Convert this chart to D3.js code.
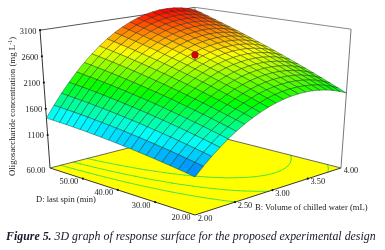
<!DOCTYPE html>
<html><head><meta charset="utf-8">
<script src="https://cdn.jsdelivr.net/npm/d3@7"></script>
<style>html,body{margin:0;padding:0;background:#fff}svg{display:block;filter:blur(0.3px)}text{font-family:"Liberation Serif",serif}</style>
</head><body><svg id="c" width="385" height="250"></svg>
<script>
const bTicks=[2,2.5,3,3.5,4], dTicks=[20,30,40,50,60], zTicks=[1100,1600,2100,2600,3100];
const bDomain=[2,4], dDomain=[20,60], zDomain=[470,3100];
const colorStops=["#0050ff","#00ffff","#00ff00","#ffff00","#ff0000"];
const colorLevels=[1000,1500,2020,2580,3150];
const contourLevels=[1700,2000,2300];
const designPoint=[3,40,2620], designSurface=2500;
const bValues=[2,2.1,2.2,2.3,2.4,2.5,2.6,2.7,2.8,2.9,3,3.1,3.2,3.3,3.4,3.5,3.6,3.7,3.8,3.9,4];
const dValues=[20,22,24,26,28,30,32,34,36,38,40,42,44,46,48,50,52,54,56,58,60];
// rows: D = 20..60, columns: B = 2..4
const surface=[
[1107,1246,1374,1491,1599,1695,1782,1857,1923,1978,2022,2056,2079,2092,2095,2087,2068,2040,2000,1950,1890],
[1132,1274,1406,1527,1637,1737,1826,1904,1972,2029,2076,2112,2137,2152,2156,2149,2132,2104,2066,2017,1957],
[1156,1301,1437,1561,1674,1777,1869,1950,2021,2080,2129,2167,2194,2210,2216,2211,2195,2168,2131,2082,2023],
[1178,1328,1467,1594,1711,1817,1911,1995,2068,2130,2181,2221,2250,2268,2275,2271,2257,2231,2194,2147,2088],
[1200,1354,1496,1627,1746,1855,1953,2039,2115,2179,2232,2274,2305,2325,2333,2331,2317,2293,2257,2210,2152],
[1221,1378,1524,1658,1781,1893,1993,2082,2160,2227,2282,2326,2359,2380,2391,2390,2377,2354,2319,2273,2215],
[1241,1402,1551,1688,1814,1929,2032,2124,2205,2274,2331,2377,2412,2435,2447,2447,2436,2414,2380,2334,2278],
[1260,1425,1577,1718,1847,1965,2071,2166,2249,2320,2380,2428,2464,2489,2502,2504,2494,2473,2440,2395,2339],
[1279,1446,1602,1746,1879,2000,2109,2206,2291,2365,2427,2477,2515,2542,2557,2560,2551,2531,2499,2455,2399],
[1296,1467,1627,1774,1910,2033,2145,2245,2333,2409,2473,2525,2566,2594,2610,2615,2607,2588,2557,2514,2459],
[1312,1487,1650,1801,1940,2066,2181,2283,2374,2452,2519,2573,2615,2645,2663,2669,2663,2644,2614,2572,2517],
[1327,1506,1672,1827,1968,2098,2216,2321,2414,2495,2563,2619,2663,2695,2715,2722,2717,2700,2670,2629,2575],
[1342,1524,1694,1851,1996,2129,2249,2357,2453,2536,2607,2665,2711,2744,2765,2774,2770,2754,2726,2685,2631],
[1355,1541,1715,1875,2024,2159,2282,2393,2491,2576,2649,2709,2757,2792,2815,2825,2822,2807,2780,2740,2687],
[1368,1557,1734,1898,2050,2188,2314,2428,2528,2616,2691,2753,2803,2840,2864,2875,2874,2860,2833,2794,2742],
[1379,1573,1753,1920,2075,2217,2345,2461,2564,2654,2732,2796,2848,2886,2912,2925,2924,2912,2886,2847,2795],
[1390,1587,1771,1941,2099,2244,2375,2494,2600,2692,2771,2838,2891,2931,2959,2973,2974,2962,2937,2899,2848],
[1400,1600,1787,1962,2122,2270,2404,2526,2634,2729,2810,2879,2934,2976,3005,3020,3023,3012,2988,2951,2900],
[1408,1612,1803,1981,2145,2295,2433,2557,2667,2764,2848,2918,2976,3019,3050,3067,3070,3060,3037,3001,2951],
[1416,1624,1818,1999,2166,2320,2460,2586,2700,2799,2885,2957,3017,3062,3094,3112,3117,3108,3086,3050,3001],
[1423,1634,1832,2016,2186,2343,2486,2615,2731,2833,2921,2996,3056,3104,3137,3157,3163,3155,3134,3099,3050]
];

const svg=d3.select("#c");
const u=d3.scaleLinear().domain(bDomain).range([0,1]);
const v=d3.scaleLinear().domain(dDomain).range([0,1]);
const zn=d3.scaleLinear().domain(zDomain).range([0,1]);
const color=d3.scaleLinear().domain(colorLevels).range(colorStops).interpolate(d3.interpolateRgb).clamp(true);

// homography of the floor plus vertical perspective
function proj(b,d,z){
  const a=u(b),c=v(d);
  const w=0.1312*a+0.1390*c+1;
  const x=(190.7*a-138*c+195)/w, y=(-25*a-23.65*c+215)/w;
  const h=(z==null?0:zn(z))*157/w;
  return [x+(x-195.5)*h/2000, y-h];
}
const line=d3.line();
const cells=[];
for(let j=dValues.length-2;j>=0;j--)for(let i=bValues.length-2;i>=0;i--){
  const z=[surface[j][i],surface[j][i+1],surface[j+1][i+1],surface[j+1][i]];
  cells.push({
    pts:[proj(bValues[i],dValues[j],z[0]),proj(bValues[i+1],dValues[j],z[1]),proj(bValues[i+1],dValues[j+1],z[2]),proj(bValues[i],dValues[j+1],z[3])],
    val:d3.mean(z)});
}

// floor
const floorC=[[2,20],[4,20],[4,60],[2,60]];
svg.append("path").attr("d",line(floorC.map(p=>proj(p[0],p[1])))+"Z").attr("fill","#ffff00").attr("stroke","none");

// floor contours
const gx=d3.scaleLinear().domain([0.5,bValues.length-0.5]).range(bDomain).clamp(true);
const gy=d3.scaleLinear().domain([0.5,dValues.length-0.5]).range(dDomain).clamp(true);
const cont=d3.contours().size([bValues.length,dValues.length]).thresholds(contourLevels)(surface.flat());
cont.forEach(c=>c.coordinates.forEach(poly=>poly.forEach(ring=>{
  for(let k=0;k<ring.length-1;k++){
    const p=[gx(ring[k][0]),gy(ring[k][1])],q=[gx(ring[k+1][0]),gy(ring[k+1][1])];
    const edge=(p[0]===q[0]&&(p[0]===2||p[0]===4))||(p[1]===q[1]&&(p[1]===20||p[1]===60));
    if(edge)continue;
    svg.append("path").attr("d",line([proj(p[0],p[1]),proj(q[0],q[1])]))
      .attr("fill","none").attr("stroke","#45e045").attr("stroke-width",0.9).attr("stroke-linecap","round");
  }
})));

// floor outline
[[[2,60],[4,60]],[[4,60],[4,20]]].forEach(s=>svg.append("path").attr("d",line(s.map(p=>proj(p[0],p[1])))).attr("stroke","#444").attr("stroke-width",0.8).attr("fill","none"));
[[[2,60],[2,20]],[[2,20],[4,20]]].forEach(s=>svg.append("path").attr("d",line(s.map(p=>proj(p[0],p[1])))).attr("stroke","#222").attr("stroke-width",0.9).attr("fill","none"));

// frame
const zTop=zTicks[zTicks.length-1], zBot=zDomain[0];
function seg(a,b,col,w){svg.append("path").attr("d",line([a,b])).attr("stroke",col).attr("stroke-width",w).attr("fill","none");}
seg(proj(2,60,zBot),proj(2,60,zTop),"#333",1);
seg(proj(2,60,zTop),proj(4,60,zTop),"#555",1);
seg(proj(4,60,zTop),proj(4,20,zTop),"#888",1);
seg(proj(4,20,zTop),proj(4,20,zBot),"#777",1);
seg(proj(4,60,zTop),proj(4,60,zBot),"#888",1);

// surface
svg.append("g").selectAll("path").data(cells).join("path")
  .attr("d",d=>line(d.pts)+"Z").attr("fill",d=>color(d.val))
  .attr("stroke","#142014").attr("stroke-opacity",0.6).attr("stroke-width",0.65).attr("stroke-linejoin","round");

// design point
const dpS=proj(designPoint[0],designPoint[1],designSurface), dpT=proj(designPoint[0],designPoint[1],designPoint[2]);
seg(dpS,dpT,"#777",1.4);
svg.append("circle").attr("cx",dpT[0]).attr("cy",dpT[1]).attr("r",3.3).attr("fill","#e00000").attr("stroke","#7a1010").attr("stroke-width",0.6);

// ticks
const dot=(p)=>svg.append("circle").attr("cx",p[0]).attr("cy",p[1]).attr("r",1.1).attr("fill","#111");
const label=(p,t,dx,dy)=>svg.append("text").attr("x",p[0]+dx).attr("y",p[1]+dy).attr("text-anchor","middle").attr("font-size",8.4).attr("fill","#222").text(t);
zTicks.forEach(z=>{const p=proj(2,60,z);dot(p);label(p,String(z),-12,3.5);});
dTicks.forEach(d=>{const p=proj(2,d);if(d!==60&&d!==20)dot(p);label(p,d.toFixed(2),-14,d===20?5:5.5);});
bTicks.forEach(b=>{const p=proj(b,20);if(b!==2&&b!==4)dot(p);label(p,b.toFixed(2),10,5.5);});

// axis titles
svg.append("text").attr("x",36).attr("y",202).attr("font-size",8.5).attr("fill","#222").text("D: last spin (min)");
svg.append("text").attr("x",255).attr("y",210).attr("font-size",8.6).attr("fill","#222").text("B: Volume of chilled water (mL)");
const yt=svg.append("text").attr("transform","translate(14.5,176) rotate(-90)").attr("font-size",8.8).attr("fill","#222");
yt.append("tspan").text("Oligosaccharide concentration (mg L");
yt.append("tspan").attr("dy",-3).attr("font-size",6).text("-1");
yt.append("tspan").attr("dy",3).text(")");

// caption
const cap=svg.append("text").attr("x",6).attr("y",240).attr("font-size",11.9).attr("font-style","italic").attr("fill","#1a1a2a");
cap.append("tspan").attr("font-weight","bold").text("Figure 5. ");
cap.append("tspan").text("3D graph of response surface for the proposed experimental design");
</script></body></html>
